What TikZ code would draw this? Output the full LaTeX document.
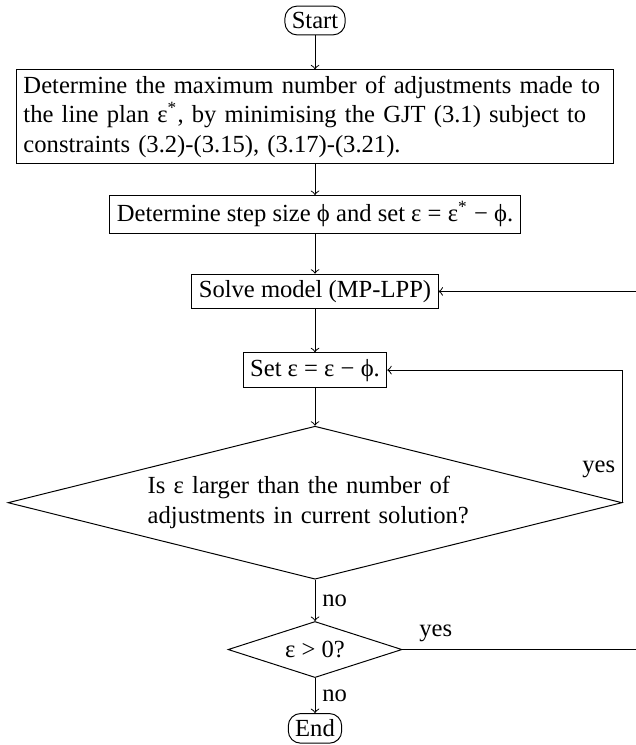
\documentclass[tikz,border=0pt]{standalone}
\usepackage{fontspec}
\setmainfont{Liberation Serif}
\usetikzlibrary{shapes.geometric, positioning}

\begin{document}
\begin{tikzpicture}[
    terminal/.style={rectangle, rounded corners=5pt, draw, inner xsep=2.8pt, inner ysep=2.5pt},
    process/.style={rectangle, draw, inner xsep=2.8pt, inner ysep=2.5pt},
    decision/.style={diamond, draw, inner sep=1pt, aspect=4},
    arr/.style={->},
    lbl/.style={inner sep=2.8pt},
    node distance=5.7mm,
]
\useasboundingbox (-128.05pt,8.33pt) rectangle (130.08pt,-294.5pt);

\node[terminal] (start) {Start};
\node[process, below=4.85mm of start, text width=237pt, align=left] (maxadj)
    {Determine the maximum number of adjustments made to\\
     the line plan ε\textsuperscript{*}, by minimising the GJT (3.1) subject to\\
     constraints (3.2)-(3.15), (3.17)-(3.21).};
\node[process, below=4.4mm of maxadj] (stepsize)
    {Determine step size ϕ and set ε = ε\textsuperscript{*} − ϕ.};
\node[process, below=of stepsize] (solve) {Solve model (MP-LPP)};
\node[process, below=6.15mm of solve] (update) {Set ε = ε − ϕ.};
\node[decision, below=5.4mm of update, minimum width=249.6pt, minimum height=62.2pt,
      text width=136pt, align=left] (compare)
    {Is ε larger than the number of\\adjustments in current solution?};
\node[decision, below=5.9mm of compare, minimum width=70.7pt, minimum height=22.8pt,
      aspect=3] (positive) {ε > 0?};
\node[terminal, below=5mm of positive] (end) {End};

% main line
\draw[arr] (start) -- (maxadj);
\draw[arr] (maxadj) -- (stepsize);
\draw[arr] (stepsize) -- (solve);
\draw[arr] (solve) -- (update);
\draw[arr] (update) -- (compare);
\draw[arr] (compare) -- node[lbl, right] {no} (positive);
\draw[arr] (positive) -- node[lbl, right] {no} (end);

% loops back
\coordinate (rim) at (131.5pt,0);
\draw[arr] (compare.east) -- node[lbl, left, pos=0.25] {yes} (compare.east |- update.east) -- (update.east);
\draw[arr] (positive.east) -- node[lbl, above right, pos=0.04] {yes} (positive.east -| rim) |- (solve.east);
\end{tikzpicture}
\end{document}
